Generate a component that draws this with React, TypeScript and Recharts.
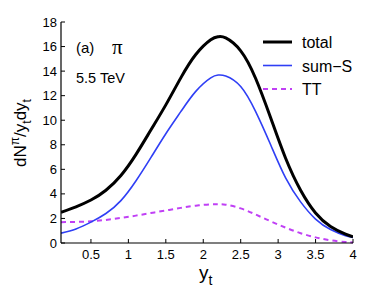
import React from "react";
import {
  LineChart,
  Line,
  XAxis,
  YAxis,
  Customized,
} from "recharts";

const yt = [0.1, 0.3, 0.5, 0.7, 0.9, 1.1, 1.3, 1.5, 1.7, 1.9, 2.1, 2.2, 2.3, 2.5, 2.7, 2.9, 3.1, 3.3, 3.5, 3.7, 3.9, 4.0];
const total = [2.5, 2.95, 3.5, 4.3, 5.5, 7.2, 9.2, 11.25, 13.45, 15.35, 16.55, 16.8, 16.7, 15.65, 13.4, 10.2, 6.9, 4.3, 2.45, 1.35, 0.72, 0.5];
const sumS = [0.8, 1.15, 1.7, 2.4, 3.45, 5.05, 6.95, 8.9, 10.7, 12.35, 13.45, 13.68, 13.6, 12.75, 10.7, 8.0, 5.3, 3.35, 1.95, 1.1, 0.6, 0.45];
const tt = [1.7, 1.72, 1.77, 1.88, 2.04, 2.23, 2.44, 2.65, 2.86, 3.04, 3.15, 3.16, 3.12, 2.82, 2.32, 1.77, 1.25, 0.8, 0.46, 0.22, 0.08, 0.05];

const xTicks = [0.5, 1, 1.5, 2, 2.5, 3, 3.5, 4];
const yTicks = [0, 2, 4, 6, 8, 10, 12, 14, 16, 18];

const data = yt.map((x, i) => ({ x, total: total[i], sumS: sumS[i], tt: tt[i] }));

const FONT = "'Liberation Sans', Arial, sans-serif";
const TL = 4;

const BottomTick = (p: any) => (
  <g>
    <line x1={p.x} x2={p.x} y1={p.y} y2={p.y - TL} stroke="#000" />
    <text x={p.x} y={p.y + 16} textAnchor="middle" fontSize={13} fontFamily={FONT} fill="#000">
      {p.payload.value}
    </text>
  </g>
);
const TopTick = (p: any) => (
  <line x1={p.x} x2={p.x} y1={p.y} y2={p.y + TL} stroke="#000" />
);
const LeftTick = (p: any) => (
  <g>
    <line x1={p.x} x2={p.x + TL} y1={p.y} y2={p.y} stroke="#000" />
    <text x={p.x - 4} y={p.y + 4.5} textAnchor="end" fontSize={13} fontFamily={FONT} fill="#000">
      {p.payload.value}
    </text>
  </g>
);
const RightTick = (p: any) => (
  <line x1={p.x} x2={p.x - TL} y1={p.y} y2={p.y} stroke="#000" />
);

const legendItems = [
  { label: "total", color: "#000", width: 3, dash: undefined as string | undefined },
  { label: "sum\u2212S", color: "#2f3ff5", width: 1.6, dash: undefined },
  { label: "TT", color: "#c040f5", width: 2, dash: "5 4" },
];

const Extras = () => (
  <g fontFamily={FONT} fill="#000">
    <text x={76} y={53} fontSize={15}>(a)</text>
    <text x={112} y={54} fontSize={21} fontFamily="'Liberation Serif', 'DejaVu Serif', serif">π</text>
    <text x={76} y={83} fontSize={14.5}>5.5 TeV</text>
    {legendItems.map((it, i) => (
      <g key={it.label}>
        <line x1={263} x2={292} y1={42 + i * 23.5} y2={42 + i * 23.5} stroke={it.color} strokeWidth={it.width} strokeDasharray={it.dash} />
        <text x={302} y={48 + i * 23.5} fontSize={16}>{it.label}</text>
      </g>
    ))}
    <text x={199} y={279} fontSize={19}>
      y<tspan fontSize={14} dy={6}>t</tspan>
    </text>
    <text transform="translate(26,133) rotate(-90)" textAnchor="middle" fontSize={17}>
      dN<tspan fontSize={12} dy={-7}>π</tspan>
      <tspan dy={7}>/y</tspan>
      <tspan fontSize={12} dy={5}>t</tspan>
      <tspan dy={-5}>dy</tspan>
      <tspan fontSize={12} dy={5}>t</tspan>
    </text>
  </g>
);

export default function App() {
  return (
    <div style={{ position: "absolute", left: 0, top: 0, background: "#fff" }}>
      <LineChart width={390} height={294} data={data} margin={{ top: 22, right: 37, bottom: 0, left: 0 }}>
        <XAxis
          xAxisId="b"
          dataKey="x"
          type="number"
          domain={[0.1, 4]}
          ticks={xTicks}
          allowDataOverflow
          height={51}
          tickSize={0}
          tickMargin={0}
          tickLine={false}
          axisLine={{ stroke: "#000", strokeWidth: 1.2 }}
          tick={<BottomTick />}
          interval={0}
        />
        <XAxis
          xAxisId="t"
          orientation="top"
          dataKey="x"
          type="number"
          domain={[0.1, 4]}
          ticks={xTicks}
          allowDataOverflow
          height={0}
          tickSize={0}
          tickMargin={0}
          tickLine={false}
          axisLine={{ stroke: "#000", strokeWidth: 1.2 }}
          tick={<TopTick />}
          interval={0}
        />
        <YAxis
          yAxisId="l"
          type="number"
          domain={[0, 18]}
          ticks={yTicks}
          width={61}
          tickSize={0}
          tickMargin={0}
          tickLine={false}
          axisLine={{ stroke: "#000", strokeWidth: 1.2 }}
          tick={<LeftTick />}
          interval={0}
        />
        <YAxis
          yAxisId="r"
          orientation="right"
          type="number"
          domain={[0, 18]}
          ticks={yTicks}
          width={0}
          tickSize={0}
          tickMargin={0}
          tickLine={false}
          axisLine={{ stroke: "#000", strokeWidth: 1.2 }}
          tick={<RightTick />}
          interval={0}
        />
        <Line xAxisId="b" yAxisId="l" type="natural" dataKey="tt" stroke="#c040f5" strokeWidth={2} strokeDasharray="5 4" dot={false} isAnimationActive={false} />
        <Line xAxisId="b" yAxisId="l" type="natural" dataKey="sumS" stroke="#2f3ff5" strokeWidth={1.6} dot={false} isAnimationActive={false} />
        <Line xAxisId="b" yAxisId="l" type="natural" dataKey="total" stroke="#000" strokeWidth={3} dot={false} isAnimationActive={false} />
        <Customized component={Extras} />
      </LineChart>
    </div>
  );
}
